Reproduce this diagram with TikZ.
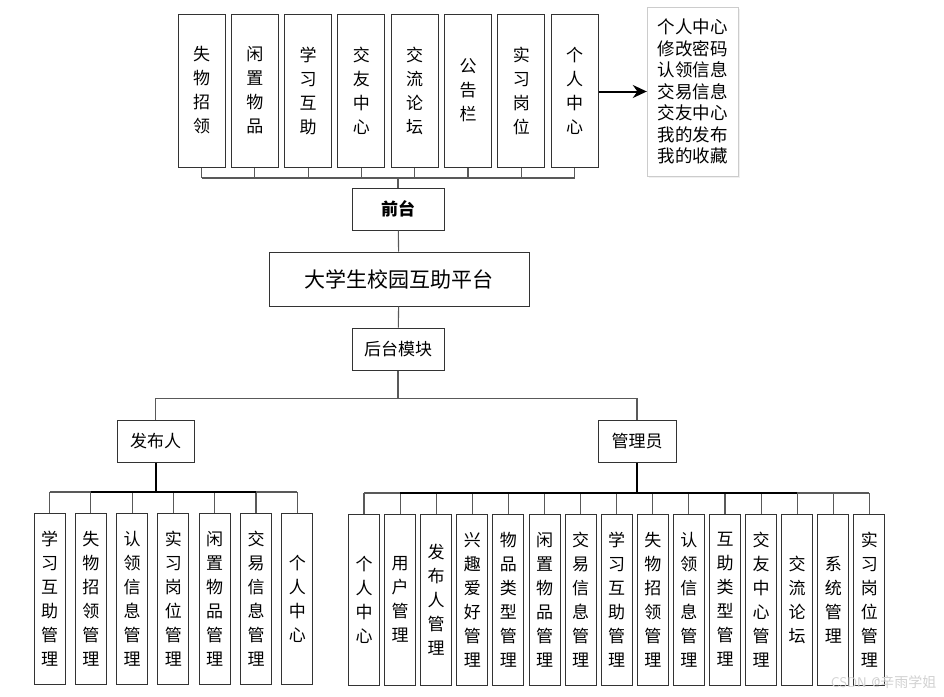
\documentclass[tikz,border=0pt]{standalone}
\usepackage{fontspec}
\newfontfamily\cjk{Noto Sans CJK SC}
\usetikzlibrary{positioning,arrows.meta,shadows}

\begin{document}
\begin{tikzpicture}[x=1pt, y=-1pt,
  box/.style={draw=black!80, line width=1pt, fill=white, align=center, inner sep=0pt, font=\cjk\fontsize{17}{24}\selectfont},
  topbar/.style={box, minimum width=47pt, minimum height=153pt},
  subbar/.style={box, minimum width=31pt, minimum height=171pt},
  head/.style={box, minimum width=78pt, minimum height=42pt},
  link/.style={draw=black!65, line width=1.1pt},
  trunk/.style={draw=black, line width=2pt},
  >=Stealth]
  \useasboundingbox (0,0) rectangle (944,696);
  % front end
  \foreach \i/\t in {1/{失\\物\\招\\领}, 2/{闲\\置\\物\\品}, 3/{学\\习\\互\\助}, 4/{交\\友\\中\\心},
      5/{交\\流\\论\\坛}, 6/{公\\告\\栏}, 7/{实\\习\\岗\\位}, 8/{个\\人\\中\\心}}
    \node[topbar] (t\i) at ({201.5+53.3*(\i-1)}, 90.5) {\t};
  \node[draw=black!20, fill=white, drop shadow={opacity=0.12, shadow xshift=2pt, shadow yshift=-2pt},
    minimum width=91pt, minimum height=169pt, inner sep=0pt, align=left,
    font=\cjk\fontsize{17.5}{21.5}\selectfont] (info) at (692.5, 91.5)
    {个人中心\\修改密码\\认领信息\\交易信息\\交友中心\\我的发布\\我的收藏};
  \node[head, minimum width=92pt, font=\cjk\bfseries\fontsize{17}{20}\selectfont] (front) at (398, 209) {前台};
  \node[box, minimum width=260pt, minimum height=54pt, font=\cjk\fontsize{21}{24}\selectfont] (platform) at (399, 279) {大学生校园互助平台};
  \node[head, minimum width=92pt] (back) at (398, 349) {后台模块};
  \node[head, minimum width=77pt] (pub) at (155.5, 441) {发布人};
  \node[head] (admin) at (637, 441) {管理员};
  % back end
  \foreach \i/\t in {1/{学\\习\\互\\助\\管\\理}, 2/{失\\物\\招\\领\\管\\理}, 3/{认\\领\\信\\息\\管\\理},
      4/{实\\习\\岗\\位\\管\\理}, 5/{闲\\置\\物\\品\\管\\理}, 6/{交\\易\\信\\息\\管\\理}, 7/{个\\人\\中\\心}}
    \node[subbar] (p\i) at ({49.5+41.3*(\i-1)}, 598.5) {\t};
  \foreach \i/\t in {1/{个\\人\\中\\心}, 2/{用\\户\\管\\理}, 3/{发\\布\\人\\管\\理}, 4/{兴\\趣\\爱\\好\\管\\理},
      5/{物\\品\\类\\型\\管\\理}, 6/{闲\\置\\物\\品\\管\\理}, 7/{交\\易\\信\\息\\管\\理}, 8/{学\\习\\互\\助\\管\\理},
      9/{失\\物\\招\\领\\管\\理}, 10/{认\\领\\信\\息\\管\\理}, 11/{互\\助\\类\\型\\管\\理}, 12/{交\\友\\中\\心\\管\\理},
      13/{交\\流\\论\\坛}, 14/{系\\统\\管\\理}, 15/{实\\习\\岗\\位\\管\\理}}
    \node[subbar] (a\i) at ({364+36.1*(\i-1)}, 599.5) {\t};
  \coordinate (topbus) at (398, 178);
  \coordinate (backbus) at (398, 398.5);
  \coordinate (pubbus) at (155.5, 492);
  \coordinate (adminbus) at (637, 493);
  % connectors
  \foreach \i in {1,...,8} \draw[link] (t\i.south) -- (t\i.south |- topbus);
  \draw[link] (t1.south |- topbus) -- (t8.south |- topbus);
  \draw[link] (topbus) -- (front.north);
  \draw[link] (front) -- (platform);
  \draw[link] (platform) -- (back);
  \draw[link] (back) -- (backbus);
  \draw[link] (pub.north) |- (backbus) -| (admin.north);
  \draw[-{Stealth[length=14pt, width=13pt]}, line width=2pt] (t8.east |- info) -- (info.west);
  \foreach \i in {1,...,7} \draw[link] (p\i.north) -- (p\i.north |- pubbus);
  \draw[link] (p1.north |- pubbus) -- (p7.north |- pubbus);
  \draw[trunk] (p2.north |- pubbus) -- (p6.north |- pubbus);
  \draw[trunk] (pub) -- (pubbus);
  \foreach \i in {1,...,15} \draw[link] (a\i.north) -- (a\i.north |- adminbus);
  \draw[link] (a1.north |- adminbus) -- (a15.north |- adminbus);
  \draw[trunk] (a2.north |- adminbus) -- (a13.north |- adminbus);
  \draw[trunk] (admin) -- (adminbus);
  \node[text=black!18, font=\sffamily\fontsize{14}{14}\selectfont, anchor=south east] (mark) at (940, 692) {CSDN @{\cjk 辛雨学姐}};
\end{tikzpicture}
\end{document}
